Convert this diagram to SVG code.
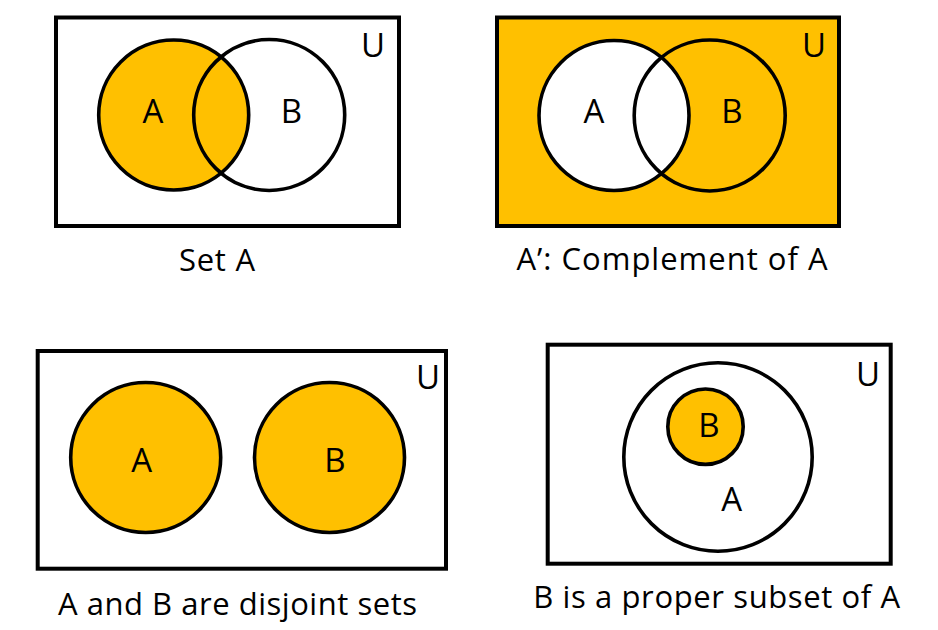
<svg xmlns="http://www.w3.org/2000/svg" width="938" height="630" viewBox="0 0 938 630">
<style>
.box{stroke:#000;stroke-width:4;}
.c{stroke:#000;stroke-width:3.6;}
.or{fill:#FFC000;}
.wh{fill:#fff;}
.no{fill:none;}
.lbl{font-family:"Open Sans","Liberation Sans",sans-serif;font-size:33px;fill:#000;text-anchor:middle;}
.cap{font-family:"Open Sans","Liberation Sans",sans-serif;font-size:31px;fill:#000;text-anchor:middle;}
</style>
<rect x="0" y="0" width="938" height="630" fill="#fff"/>
<g id="panel-set-a">
  <rect class="box wh" x="56" y="17.5" width="343" height="208.5"/>
  <circle class="c or" cx="173.7" cy="115" r="75"/>
  <circle class="c no" cx="269.2" cy="115" r="75.5"/>
  <text class="lbl" x="153" y="123">A</text>
  <text class="lbl" x="291.5" y="123">B</text>
  <text class="lbl" x="373" y="57">U</text>
  <text class="cap" x="217" y="271" textLength="76" lengthAdjust="spacing">Set A</text>
</g>
<g id="panel-complement">
  <rect class="box or" x="497" y="17.5" width="342" height="208.5"/>
  <circle class="c wh" cx="614" cy="115.5" r="75"/>
  <circle class="c no" cx="709.7" cy="115.5" r="75.5"/>
  <text class="lbl" x="594" y="123">A</text>
  <text class="lbl" x="732" y="123">B</text>
  <text class="lbl" x="814" y="57">U</text>
  <text class="cap" x="672" y="270" textLength="311" lengthAdjust="spacing">A’: Complement of A</text>
</g>
<g id="panel-disjoint">
  <rect class="box wh" x="37.7" y="351" width="408.3" height="217.7"/>
  <circle class="c or" cx="145.7" cy="457.5" r="75"/>
  <circle class="c or" cx="329.5" cy="457.5" r="75"/>
  <text class="lbl" x="141.7" y="472">A</text>
  <text class="lbl" x="335" y="472">B</text>
  <text class="lbl" x="428" y="389">U</text>
  <text class="cap" x="237.5" y="615" textLength="359" lengthAdjust="spacing">A and B are disjoint sets</text>
</g>
<g id="panel-subset">
  <rect class="box wh" x="547.7" y="344.7" width="343" height="219"/>
  <circle class="c wh" cx="718" cy="457" r="94.2"/>
  <circle class="c or" cx="705.5" cy="426.7" r="37.7"/>
  <text class="lbl" x="709" y="437.3">B</text>
  <text class="lbl" x="731.7" y="510.7">A</text>
  <text class="lbl" x="868" y="386">U</text>
  <text class="cap" x="716.7" y="608" textLength="367" lengthAdjust="spacing">B is a proper subset of A</text>
</g>
<g id="connectors"></g>
</svg>
